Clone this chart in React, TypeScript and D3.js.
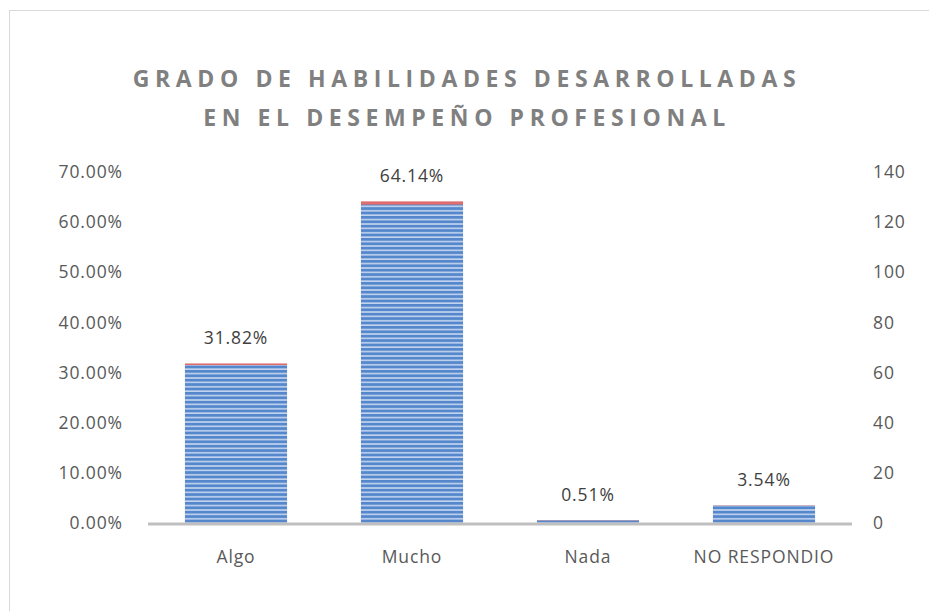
import React, { useEffect, useRef } from 'react'
import * as d3 from 'd3'

const categories = ['Algo', 'Mucho', 'Nada', 'NO RESPONDIO']
const percentages = [0.3182, 0.6414, 0.0051, 0.0354]
const counts = [63, 127, 1, 7]
const percentTicks = [0, 0.1, 0.2, 0.3, 0.4, 0.5, 0.6, 0.7]
const countTicks = [0, 20, 40, 60, 80, 100, 120, 140]
const titleLines = ['GRADO DE HABILIDADES DESARROLLADAS', 'EN EL DESEMPEÑO PROFESIONAL']

const width = 929
const height = 611

const App: React.FC = () => {
  const svgRef = useRef<SVGSVGElement>(null)

  useEffect(() => {
    if (!svgRef.current) return
    const svg = d3.select(svgRef.current)
    svg.selectAll('*').remove()

    const margin = { top: 172, right: 77, bottom: 88, left: 148 }
    const plotW = width - margin.left - margin.right
    const plotH = height - margin.top - margin.bottom

    // striped fill used by the count bars
    const defs = svg.append('defs')
    const pat = defs.append('pattern')
      .attr('id', 'stripes')
      .attr('patternUnits', 'userSpaceOnUse')
      .attr('width', 10)
      .attr('height', 4.4)
    pat.append('rect').attr('width', 10).attr('height', 4.4).attr('fill', '#5587cc')
    pat.append('rect').attr('y', 2.8).attr('width', 10).attr('height', 1.6).attr('fill', '#c2d4ee')

    // chart frame
    svg.append('rect')
      .attr('x', 9.5).attr('y', 10.5)
      .attr('width', width + 20).attr('height', height + 20)
      .attr('fill', '#fff')
      .attr('stroke', '#d9d9d9')

    svg.append('g')
      .selectAll('text')
      .data(titleLines)
      .enter()
      .append('text')
      .attr('x', 467)
      .attr('y', (_, i) => 87 + i * 39)
      .attr('text-anchor', 'middle')
      .attr('font-family', '"Open Sans", Lato, sans-serif')
      .attr('font-weight', 'bold')
      .attr('font-size', 23)
      .attr('letter-spacing', 5.6)
      .attr('fill', '#808080')
      .text(d => d)

    const chart = svg.append('g')
      .attr('transform', `translate(${margin.left},${margin.top})`)

    const x = d3.scaleBand<string>()
      .domain(categories)
      .range([0, plotW])
      .paddingInner(0.42)
      .paddingOuter(0.21)

    const yPct = d3.scaleLinear().domain([0, 0.7]).range([plotH, 0])
    const yCnt = d3.scaleLinear().domain([0, 140]).range([plotH, 0])

    const font = '"Open Sans", "Noto Sans", sans-serif'
    const fs = 17.5
    const ls = 0.9

    // left axis labels
    chart.append('g')
      .selectAll('text')
      .data(percentTicks)
      .enter()
      .append('text')
      .attr('x', -25)
      .attr('y', d => yPct(d))
      .attr('dy', '0.35em')
      .attr('text-anchor', 'end')
      .attr('font-family', font)
      .attr('font-size', fs)
      .attr('letter-spacing', ls)
      .attr('fill', '#595959')
      .text(d => d3.format('.2%')(d))

    // right axis labels
    chart.append('g')
      .selectAll('text')
      .data(countTicks)
      .enter()
      .append('text')
      .attr('x', plotW + 21)
      .attr('y', d => yCnt(d))
      .attr('dy', '0.35em')
      .attr('text-anchor', 'start')
      .attr('font-family', font)
      .attr('font-size', fs)
      .attr('letter-spacing', ls)
      .attr('fill', '#595959')
      .text(d => String(d))

    // percentage bars (behind)
    chart.append('g')
      .selectAll('rect')
      .data(percentages)
      .enter()
      .append('rect')
      .attr('x', (_, i) => x(categories[i]) || 0)
      .attr('y', d => yPct(d))
      .attr('width', x.bandwidth())
      .attr('height', d => plotH - yPct(d))
      .attr('fill', '#e06c6c')

    // count bars (front, secondary axis)
    chart.append('g')
      .selectAll('rect')
      .data(counts)
      .enter()
      .append('rect')
      .attr('x', (_, i) => x(categories[i]) || 0)
      .attr('y', d => yCnt(d))
      .attr('width', x.bandwidth())
      .attr('height', d => plotH - yCnt(d))
      .attr('fill', 'url(#stripes)')

    // baseline
    chart.append('line')
      .attr('x1', 0).attr('x2', plotW)
      .attr('y1', plotH + 1).attr('y2', plotH + 1)
      .attr('stroke', '#bfbfbf')
      .attr('stroke-width', 3)

    // data labels
    chart.append('g')
      .selectAll('text')
      .data(percentages)
      .enter()
      .append('text')
      .attr('x', (_, i) => (x(categories[i]) || 0) + x.bandwidth() / 2)
      .attr('y', d => yPct(d) - 19)
      .attr('text-anchor', 'middle')
      .attr('font-family', font)
      .attr('font-size', fs)
      .attr('letter-spacing', ls)
      .attr('fill', '#404040')
      .text(d => d3.format('.2%')(d))

    // category labels
    chart.append('g')
      .selectAll('text')
      .data(categories)
      .enter()
      .append('text')
      .attr('x', d => (x(d) || 0) + x.bandwidth() / 2)
      .attr('y', plotH + 40)
      .attr('text-anchor', 'middle')
      .attr('font-family', font)
      .attr('font-size', fs)
      .attr('letter-spacing', ls)
      .attr('fill', '#595959')
      .text(d => d)
  }, [])

  return (
    <svg
      ref={svgRef}
      width={width}
      height={height}
      style={{ position: 'absolute', left: 0, top: 0 }}
    />
  )
}

export default App
